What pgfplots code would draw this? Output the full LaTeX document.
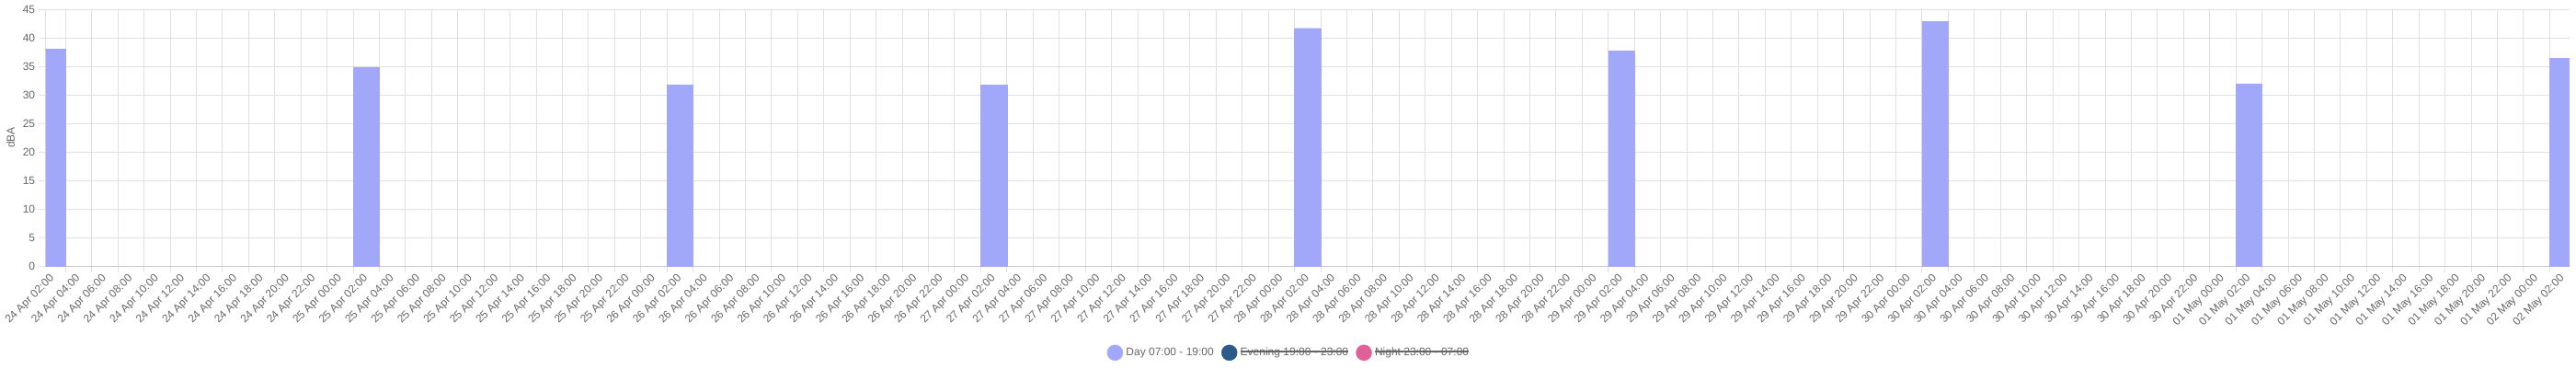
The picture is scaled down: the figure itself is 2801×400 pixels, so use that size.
\documentclass[border=0pt]{standalone}
\usepackage{pgfplots}
\pgfplotsset{compat=1.18}
\usepackage{fontspec}
\setmainfont{Liberation Sans}
\definecolor{daycol}{RGB}{161,168,249}
\definecolor{evecol}{RGB}{44,90,140}
\definecolor{nightcol}{RGB}{224,96,154}
\definecolor{txt}{RGB}{102,102,102}
\definecolor{gridc}{RGB}{225,225,225}
\definecolor{axisc}{RGB}{200,200,200}
\newsavebox\strikebox
\newcommand{\strike}[1]{\sbox\strikebox{#1}\rlap{\rule[4.3pt]{\wd\strikebox}{1.5pt}}\usebox\strikebox}
\begin{document}
\begin{tikzpicture}
\useasboundingbox (0pt,0pt) rectangle (2801pt,400pt);
\begin{axis}[
  at={(49.7pt,111pt)}, anchor=south west,
  scale only axis, width=2744.3pt, height=278.7pt,
  xmin=-0.26, xmax=96.26, ymin=0, ymax=45,
  ytick={0,5,...,45},
  xtick={0,1,...,96},
  minor xtick={0.5,1.5,...,95.5},
  xticklabels={24 Apr 02:00,24 Apr 04:00,24 Apr 06:00,24 Apr 08:00,24 Apr 10:00,24 Apr 12:00,24 Apr 14:00,24 Apr 16:00,24 Apr 18:00,24 Apr 20:00,24 Apr 22:00,
  25 Apr 00:00,25 Apr 02:00,25 Apr 04:00,25 Apr 06:00,25 Apr 08:00,25 Apr 10:00,25 Apr 12:00,25 Apr 14:00,25 Apr 16:00,25 Apr 18:00,25 Apr 20:00,25 Apr 22:00,
  26 Apr 00:00,26 Apr 02:00,26 Apr 04:00,26 Apr 06:00,26 Apr 08:00,26 Apr 10:00,26 Apr 12:00,26 Apr 14:00,26 Apr 16:00,26 Apr 18:00,26 Apr 20:00,26 Apr 22:00,
  27 Apr 00:00,27 Apr 02:00,27 Apr 04:00,27 Apr 06:00,27 Apr 08:00,27 Apr 10:00,27 Apr 12:00,27 Apr 14:00,27 Apr 16:00,27 Apr 18:00,27 Apr 20:00,27 Apr 22:00,
  28 Apr 00:00,28 Apr 02:00,28 Apr 04:00,28 Apr 06:00,28 Apr 08:00,28 Apr 10:00,28 Apr 12:00,28 Apr 14:00,28 Apr 16:00,28 Apr 18:00,28 Apr 20:00,28 Apr 22:00,
  29 Apr 00:00,29 Apr 02:00,29 Apr 04:00,29 Apr 06:00,29 Apr 08:00,29 Apr 10:00,29 Apr 12:00,29 Apr 14:00,29 Apr 16:00,29 Apr 18:00,29 Apr 20:00,29 Apr 22:00,
  30 Apr 00:00,30 Apr 02:00,30 Apr 04:00,30 Apr 06:00,30 Apr 08:00,30 Apr 10:00,30 Apr 12:00,30 Apr 14:00,30 Apr 16:00,30 Apr 18:00,30 Apr 20:00,30 Apr 22:00,
  01 May 00:00,01 May 02:00,01 May 04:00,01 May 06:00,01 May 08:00,01 May 10:00,01 May 12:00,01 May 14:00,01 May 16:00,01 May 18:00,01 May 20:00,01 May 22:00,
  02 May 00:00,02 May 02:00},
  axis x line*=bottom, axis y line*=left,
  x axis line style={draw=axisc, line width=1pt},
  y axis line style={draw=gridc, line width=1pt},
  xmajorgrids=false, xminorgrids=true, ymajorgrids=true,
  major grid style={draw=gridc, line width=1pt},
  minor grid style={draw=gridc, line width=1pt},
  tick align=outside,
  major tick length=8pt, minor tick length=7pt,
  major x tick style={draw=none},
  minor x tick style={draw=gridc, line width=1pt},
  major y tick style={draw=gridc, line width=1pt},
  /pgf/number format/assume math mode=true,
  tick label style={font=\fontsize{12pt}{14pt}\selectfont, text=txt},
  yticklabel style={anchor=east, inner sep=0pt, xshift=-3.4pt},
  xticklabel style={yshift=-4pt, rotate=45, anchor=east, inner sep=0pt},
  ylabel={dBA},
  every axis y label/.style={at={(axis description cs:0,0.5)}, xshift=-38pt, rotate=90, anchor=center, font=\fontsize{12pt}{14pt}\selectfont, text=txt},
  legend columns=-1,
  legend style={at={(0.4922,-0.3384)}, anchor=center, draw=none, fill=none,
    font=\fontsize{12pt}{14pt}\selectfont, text=txt, inner sep=0pt,
    nodes={inner sep=0pt},
    /tikz/every odd column/.append style={column sep=3.3pt},
    /tikz/every even column/.append style={column sep=8.2pt}},
]
\addplot[ybar, bar width=1, fill=daycol, draw=daycol, forget plot] coordinates {
(0,38.0) (12,34.8) (24,31.8) (36,31.8) (48,41.7) (60,37.7) (72,42.9) (84,32.0) (96,36.4)
};
\addlegendimage{legend image code/.code={\fill[daycol] (8.5pt,0pt) circle (8.5pt);}}
\addlegendentry{Day 07:00 - 19:00}
\addlegendimage{legend image code/.code={\fill[evecol] (8.5pt,0pt) circle (8.5pt);}}
\addlegendentry{\strike{Evening 19:00 - 23:00}}
\addlegendimage{legend image code/.code={\fill[nightcol] (8.5pt,0pt) circle (8.5pt);}}
\addlegendentry{\strike{Night 23:00 - 07:00}}
\end{axis}
\end{tikzpicture}
\end{document}
